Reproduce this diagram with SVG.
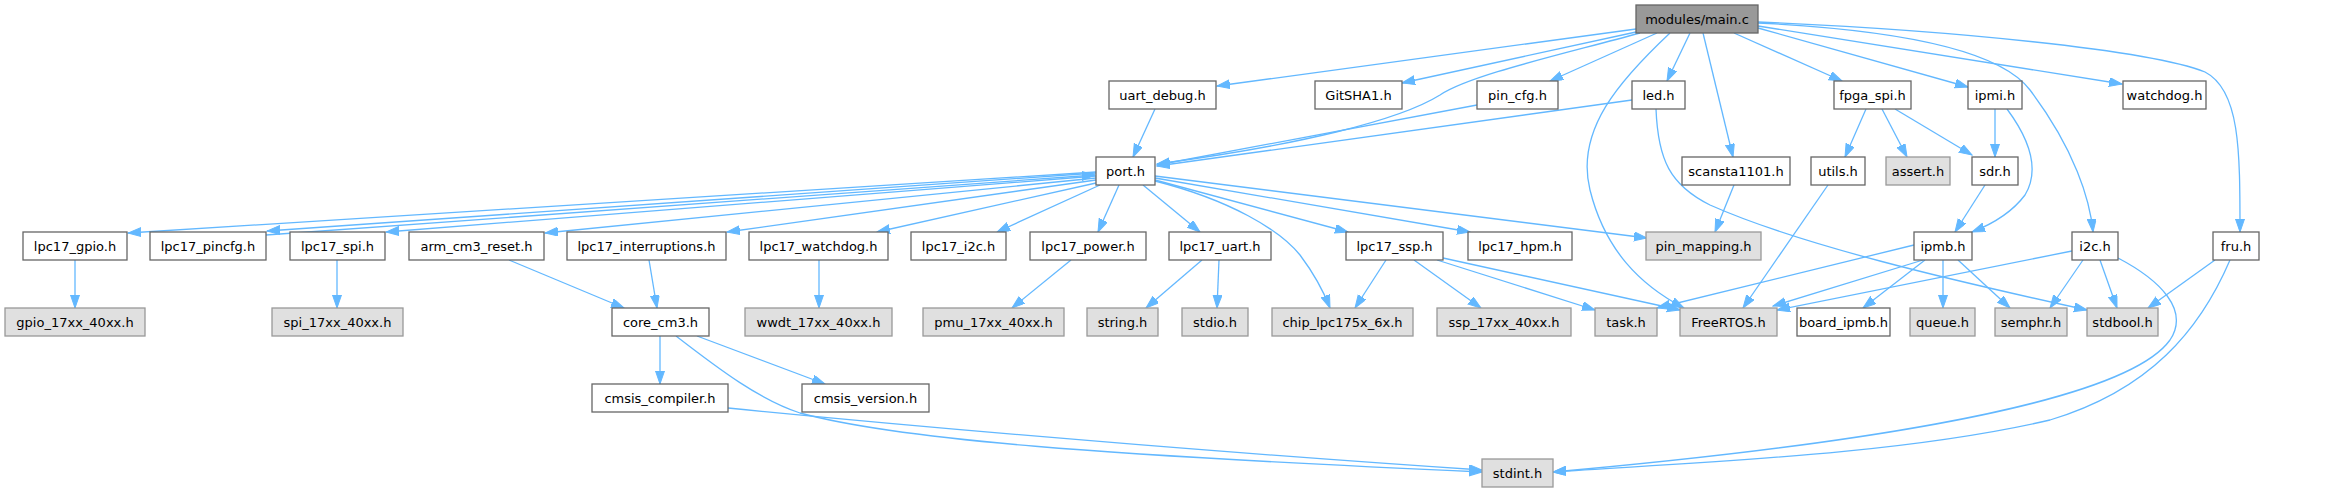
<svg xmlns="http://www.w3.org/2000/svg" width="2339" height="492" viewBox="0 0 2339 492">
<style>
rect{fill:#ffffff;stroke:#666666;stroke-width:1.3}
.g rect{fill:#e0e0e0;stroke:#999999}
.m rect{fill:#999999;stroke:#666666}
text{font-family:"DejaVu Sans","Liberation Sans",sans-serif;font-size:13px;text-anchor:middle;fill:#000000}
#edges path{fill:none;stroke:#63b8ff;stroke-width:1.3;marker-end:url(#a)}
</style>
<defs>
<marker id="a" markerUnits="userSpaceOnUse" markerWidth="14" markerHeight="10" refX="13" refY="4.5" orient="auto"><path d="M0,0L13,4.5L0,9z" fill="#63b8ff" stroke="#63b8ff" stroke-width="1"/></marker>
</defs>
<rect x="0" y="0" width="2339" height="492" style="fill:#ffffff;stroke:none"/>
<g id="edges">
<path d="M1636,29L1217,86"/>
<path d="M1636,32L1402,83"/>
<path d="M1640,33C1560,55 1470,75 1440,95C1400,120 1300,145 1157,164"/>
<path d="M1657,33L1550,81"/>
<path d="M1690,33L1667,81"/>
<path d="M1670,33C1620,80 1575,130 1590,190C1605,250 1640,285 1684,308"/>
<path d="M1703,33L1733,157"/>
<path d="M1734,33L1842,81"/>
<path d="M1758,28L1968,87"/>
<path d="M1758,26L2122,84"/>
<path d="M1758,23C1900,30 2000,50 2030,90C2075,150 2090,200 2093,232"/>
<path d="M1758,22C1950,30 2150,50 2205,72C2240,90 2240,150 2240,232"/>
<path d="M1155,109L1133,157"/>
<path d="M1477,105L1157,165"/>
<path d="M1632,100L1157,166"/>
<path d="M1096,172L128,233"/>
<path d="M1096,173L267,231"/>
<path d="M266,235L1095,175"/>
<path d="M1096,176L386,232"/>
<path d="M1096,178L545,233"/>
<path d="M1096,180L727,232"/>
<path d="M1096,183L877,232"/>
<path d="M1100,185L997,232"/>
<path d="M1119,185L1098,232"/>
<path d="M1143,185L1200,232"/>
<path d="M1155,181C1230,200 1280,230 1300,255C1315,275 1325,295 1330,308"/>
<path d="M1155,180L1348,232"/>
<path d="M1155,178L1470,232"/>
<path d="M1155,176L1647,238"/>
<path d="M75,260L75,308"/>
<path d="M337,260L337,308"/>
<path d="M509,260L624,308"/>
<path d="M649,260L657,308"/>
<path d="M819,260L819,308"/>
<path d="M1071,260L1012,308"/>
<path d="M1202,260L1146,308"/>
<path d="M1219,260L1217,308"/>
<path d="M1386,260L1355,308"/>
<path d="M1414,260L1481,308"/>
<path d="M1437,260L1595,310"/>
<path d="M1443,258L1680,310"/>
<path d="M660,336L660,384"/>
<path d="M697,336L825,384"/>
<path d="M676,336C720,370 760,400 800,413C900,440 1100,455 1482,472"/>
<path d="M728,408C1000,435 1300,458 1482,470"/>
<path d="M1734,185L1715,232"/>
<path d="M1866,109L1845,157"/>
<path d="M1882,109L1907,157"/>
<path d="M1895,109L1972,155"/>
<path d="M1995,109L1995,157"/>
<path d="M2007,109C2030,140 2040,170 2025,195C2010,215 1990,225 1972,232"/>
<path d="M1985,185L1955,232"/>
<path d="M1828,185L1743,308"/>
<path d="M1656,109C1658,160 1670,185 1710,205C1800,245 1950,280 2087,310"/>
<path d="M1914,245L1657,308"/>
<path d="M1923,260L1773,306"/>
<path d="M1925,260L1863,308"/>
<path d="M1943,260L1943,308"/>
<path d="M1958,260L2010,308"/>
<path d="M2083,260L2050,308"/>
<path d="M2100,260L2117,308"/>
<path d="M2072,251L1777,310"/>
<path d="M2118,258C2160,280 2190,310 2170,340C2120,410 1800,450 1553,472"/>
<path d="M2215,260L2148,308"/>
<path d="M2230,260C2200,330 2150,390 2050,420C1900,455 1700,462 1553,472"/>
</g>
<g id="n_main_c" class="m"><rect x="1636" y="5" width="122" height="28"/><text x="1697" y="23.5">modules/main.c</text></g>
<g id="n_uart_debug"><rect x="1109" y="81" width="107" height="28"/><text x="1162.5" y="99.5">uart_debug.h</text></g>
<g id="n_gitsha1"><rect x="1315" y="81" width="87" height="28"/><text x="1358.5" y="99.5">GitSHA1.h</text></g>
<g id="n_pin_cfg"><rect x="1477" y="81" width="81" height="28"/><text x="1517.5" y="99.5">pin_cfg.h</text></g>
<g id="n_led"><rect x="1632" y="81" width="53" height="28"/><text x="1658.5" y="99.5">led.h</text></g>
<g id="n_fpga_spi"><rect x="1834" y="81" width="77" height="28"/><text x="1872.5" y="99.5">fpga_spi.h</text></g>
<g id="n_ipmi"><rect x="1968" y="81" width="54" height="28"/><text x="1995" y="99.5">ipmi.h</text></g>
<g id="n_watchdog"><rect x="2123" y="81" width="83" height="28"/><text x="2164.5" y="99.5">watchdog.h</text></g>
<g id="n_port"><rect x="1096" y="157" width="59" height="28"/><text x="1125.5" y="175.5">port.h</text></g>
<g id="n_scansta1101"><rect x="1682" y="157" width="108" height="28"/><text x="1736" y="175.5">scansta1101.h</text></g>
<g id="n_utils"><rect x="1811" y="157" width="54" height="28"/><text x="1838" y="175.5">utils.h</text></g>
<g id="n_assert" class="g"><rect x="1886" y="157" width="64" height="28"/><text x="1918" y="175.5">assert.h</text></g>
<g id="n_sdr"><rect x="1972" y="157" width="46" height="28"/><text x="1995" y="175.5">sdr.h</text></g>
<g id="n_lpc17_gpio"><rect x="23" y="232" width="104" height="28"/><text x="75" y="250.5">lpc17_gpio.h</text></g>
<g id="n_lpc17_pincfg"><rect x="150" y="232" width="116" height="28"/><text x="208" y="250.5">lpc17_pincfg.h</text></g>
<g id="n_lpc17_spi"><rect x="290" y="232" width="95" height="28"/><text x="337.5" y="250.5">lpc17_spi.h</text></g>
<g id="n_arm_cm3_reset"><rect x="409" y="232" width="135" height="28"/><text x="476.5" y="250.5">arm_cm3_reset.h</text></g>
<g id="n_lpc17_interruptions"><rect x="567" y="232" width="159" height="28"/><text x="646.5" y="250.5">lpc17_interruptions.h</text></g>
<g id="n_lpc17_watchdog"><rect x="749" y="232" width="139" height="28"/><text x="818.5" y="250.5">lpc17_watchdog.h</text></g>
<g id="n_lpc17_i2c"><rect x="911" y="232" width="95" height="28"/><text x="958.5" y="250.5">lpc17_i2c.h</text></g>
<g id="n_lpc17_power"><rect x="1030" y="232" width="116" height="28"/><text x="1088" y="250.5">lpc17_power.h</text></g>
<g id="n_lpc17_uart"><rect x="1169" y="232" width="102" height="28"/><text x="1220" y="250.5">lpc17_uart.h</text></g>
<g id="n_lpc17_ssp"><rect x="1346" y="232" width="97" height="28"/><text x="1394.5" y="250.5">lpc17_ssp.h</text></g>
<g id="n_lpc17_hpm"><rect x="1468" y="232" width="104" height="28"/><text x="1520" y="250.5">lpc17_hpm.h</text></g>
<g id="n_pin_mapping" class="g"><rect x="1646" y="232" width="115" height="28"/><text x="1703.5" y="250.5">pin_mapping.h</text></g>
<g id="n_ipmb"><rect x="1914" y="232" width="58" height="28"/><text x="1943" y="250.5">ipmb.h</text></g>
<g id="n_i2c"><rect x="2072" y="232" width="46" height="28"/><text x="2095" y="250.5">i2c.h</text></g>
<g id="n_fru"><rect x="2213" y="232" width="46" height="28"/><text x="2236" y="250.5">fru.h</text></g>
<g id="n_gpio_17xx_40xx" class="g"><rect x="5" y="308" width="140" height="28"/><text x="75" y="326.5">gpio_17xx_40xx.h</text></g>
<g id="n_spi_17xx_40xx" class="g"><rect x="272" y="308" width="131" height="28"/><text x="337.5" y="326.5">spi_17xx_40xx.h</text></g>
<g id="n_core_cm3"><rect x="612" y="308" width="97" height="28"/><text x="660.5" y="326.5">core_cm3.h</text></g>
<g id="n_wwdt_17xx_40xx" class="g"><rect x="745" y="308" width="147" height="28"/><text x="818.5" y="326.5">wwdt_17xx_40xx.h</text></g>
<g id="n_pmu_17xx_40xx" class="g"><rect x="923" y="308" width="141" height="28"/><text x="993.5" y="326.5">pmu_17xx_40xx.h</text></g>
<g id="n_string" class="g"><rect x="1087" y="308" width="71" height="28"/><text x="1122.5" y="326.5">string.h</text></g>
<g id="n_stdio" class="g"><rect x="1182" y="308" width="66" height="28"/><text x="1215" y="326.5">stdio.h</text></g>
<g id="n_chip_lpc175x_6x" class="g"><rect x="1272" y="308" width="141" height="28"/><text x="1342.5" y="326.5">chip_lpc175x_6x.h</text></g>
<g id="n_ssp_17xx_40xx" class="g"><rect x="1437" y="308" width="134" height="28"/><text x="1504" y="326.5">ssp_17xx_40xx.h</text></g>
<g id="n_task" class="g"><rect x="1595" y="308" width="62" height="28"/><text x="1626" y="326.5">task.h</text></g>
<g id="n_freertos" class="g"><rect x="1680" y="308" width="97" height="28"/><text x="1728.5" y="326.5">FreeRTOS.h</text></g>
<g id="n_board_ipmb"><rect x="1797" y="308" width="93" height="28"/><text x="1843.5" y="326.5">board_ipmb.h</text></g>
<g id="n_queue" class="g"><rect x="1910" y="308" width="65" height="28"/><text x="1942.5" y="326.5">queue.h</text></g>
<g id="n_semphr" class="g"><rect x="1995" y="308" width="72" height="28"/><text x="2031" y="326.5">semphr.h</text></g>
<g id="n_stdbool" class="g"><rect x="2087" y="308" width="71" height="28"/><text x="2122.5" y="326.5">stdbool.h</text></g>
<g id="n_cmsis_compiler"><rect x="592" y="384" width="136" height="28"/><text x="660" y="402.5">cmsis_compiler.h</text></g>
<g id="n_cmsis_version"><rect x="802" y="384" width="127" height="28"/><text x="865.5" y="402.5">cmsis_version.h</text></g>
<g id="n_stdint" class="g"><rect x="1482" y="459" width="71" height="28"/><text x="1517.5" y="477.5">stdint.h</text></g>
</svg>
